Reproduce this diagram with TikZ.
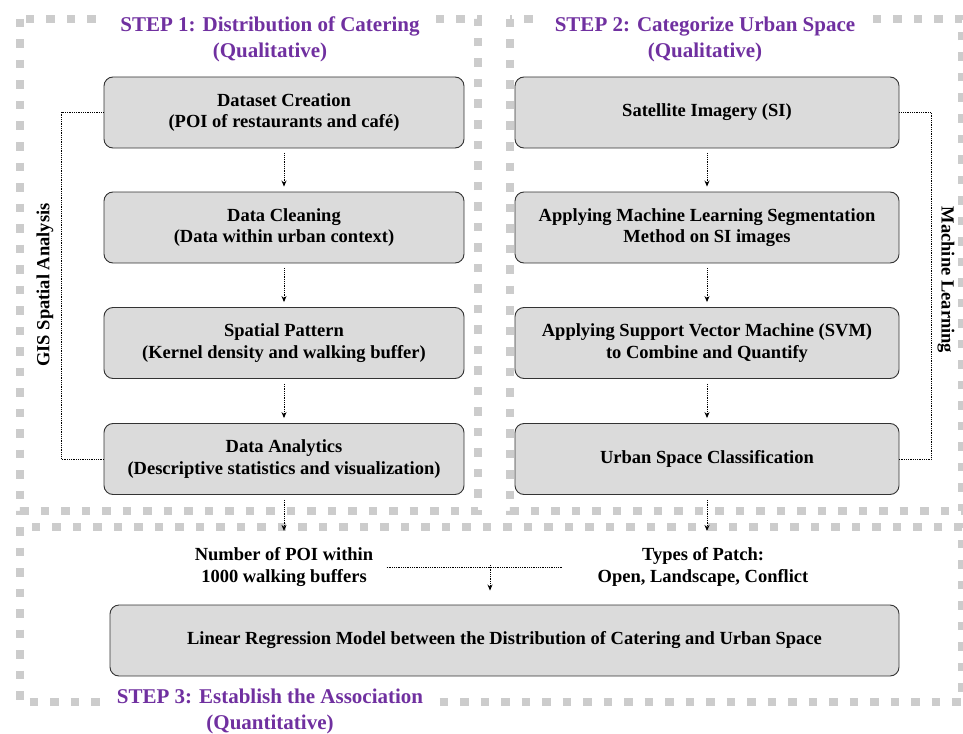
\documentclass[tikz,border=0pt]{standalone}
\usepackage{fontspec}
\setmainfont{Liberation Serif}
\usetikzlibrary{arrows.meta}
\usetikzlibrary{positioning}
\definecolor{steppurple}{RGB}{112,48,160}
\tikzset{
    stepframe/.style={draw=black!20,line width=8.5pt,dash pattern=on 8.5pt off 12pt},
    steptitle/.style={fill=white,text=steppurple,align=center,inner xsep=12pt,inner ysep=1pt,
        font=\fontsize{21}{26}\selectfont\bfseries},
    procbox/.style={draw=black!80,fill=black!14,line width=0.9pt,rounded corners=9pt,
        minimum height=71pt,align=center,font=\fontsize{18.5}{21.5}\selectfont\bfseries},
    outlabel/.style={align=center,font=\fontsize{18.5}{22}\selectfont\bfseries},
    sidelabel/.style={font=\fontsize{18.5}{20}\selectfont\bfseries},
    flow/.style={densely dotted,line width=0.8pt,-{Stealth[length=6pt,width=5pt]},shorten <=5pt,shorten >=5pt},
    link/.style={densely dotted,line width=0.8pt},
}
\begin{document}
\begin{tikzpicture}[x=1pt,y=-1pt]
\useasboundingbox (0,0) rectangle (963,733);
% frames of the three steps
\draw[stepframe] (20,19) rectangle (478,511);
\draw[stepframe] (510,19) rectangle (962,511);
\draw[stepframe] (20,527) rectangle (962,702);
\node[steptitle] (t1) at (270,39) {STEP 1: Distribution of Catering\\(Qualitative)};
\node[steptitle] (t2) at (705,39) {STEP 2: Categorize Urban Space\\(Qualitative)};
\node[steptitle,inner ysep=0pt] (t3) at (270,711) {STEP 3: Establish the Association\\(Quantitative)};
% step 1
\node[procbox,minimum width=360pt] (ds) at (284,112.5) {Dataset Creation\\(POI of restaurants and café)};
\node[procbox,minimum width=360pt] (dc) at (284,227.5) {Data Cleaning\\(Data within urban context)};
\node[procbox,minimum width=360pt] (sp) at (284,343) {Spatial Pattern\\(Kernel density and walking buffer)};
\node[procbox,minimum width=360pt] (da) at (284,459) {Data Analytics\\(Descriptive statistics and visualization)};
\draw[flow] (ds) -- (dc);
\draw[flow] (dc) -- (sp);
\draw[flow] (sp) -- (da);
\draw[link] (ds.west) -- ++(-42,0) |- (da.west);
\node[sidelabel,rotate=90] (gis) at (45,285) {GIS Spatial Analysis};
% step 2
\node[procbox,minimum width=384pt] (si) at (707,112.5) {Satellite Imagery (SI)};
\node[procbox,minimum width=384pt] (ml) at (707,227.5) {Applying Machine Learning Segmentation\\Method on SI images};
\node[procbox,minimum width=384pt] (svm) at (707,343) {Applying Support Vector Machine (SVM)\\to Combine and Quantify};
\node[procbox,minimum width=384pt] (usc) at (707,459) {Urban Space Classification};
\draw[flow] (si) -- (ml);
\draw[flow] (ml) -- (svm);
\draw[flow] (svm) -- (usc);
\draw[link] (si.east) -- ++(32,0) |- (usc.east);
\node[sidelabel,rotate=-90] (mlearn) at (946,280) {Machine Learning};
% step 3
\node[outlabel] (poi) at (284,567) {Number of POI within\\1000 walking buffers};
\node[outlabel] (patch) at (703,567) {Types of Patch:\\Open, Landscape, Conflict};
\node[procbox,minimum width=789pt] (lrm) at (504.5,640.5) {Linear Regression Model between the Distribution of Catering and Urban Space};
\draw[flow,shorten >=13pt] (da) -- (poi);
\draw[flow,shorten >=13pt] (usc.south) -- (usc.south |- patch.north);
\coordinate (join) at (490,565);
\draw[link] ([xshift=10pt]poi.east) -- ([xshift=-32pt]patch.west);
\draw[flow,shorten <=0pt,shorten >=14pt] (join) -- (join |- lrm.north);
\end{tikzpicture}
\end{document}
